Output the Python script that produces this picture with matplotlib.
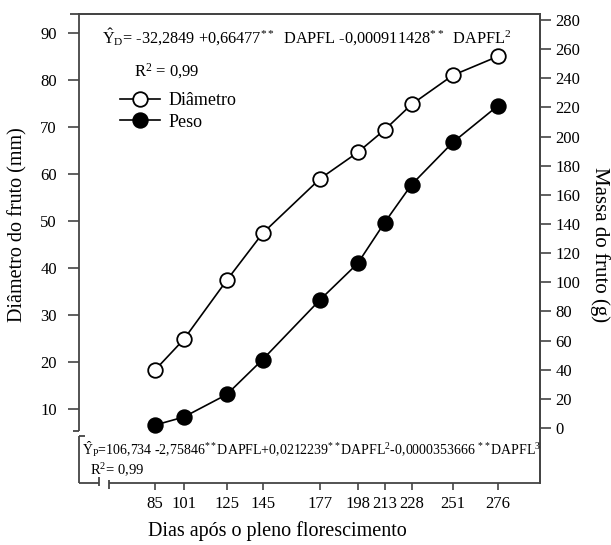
import matplotlib
matplotlib.use("Agg")
import matplotlib.pyplot as plt

days = [85, 101, 125, 145, 177, 198, 213, 228, 251, 276]
day_labels = ["85", "101", "125", "145", "177", "198", "213", "228", "251", "276"]
diametro = [18.3, 24.8, 37.4, 47.4, 59.0, 64.6, 69.4, 74.8, 81.0, 85.0]
peso = [2.0, 7.5, 23.0, 47.0, 88.0, 113.0, 141.0, 167.0, 196.0, 221.0]
left_ticks = [10, 20, 30, 40, 50, 60, 70, 80, 90]
right_ticks = list(range(0, 281, 20))

plt.rcParams['font.family'] = ['Liberation Serif', 'DejaVu Serif']
plt.rcParams['mathtext.fontset'] = 'custom'
plt.rcParams['mathtext.rm'] = 'Liberation Serif'
plt.rcParams['mathtext.it'] = 'Liberation Serif:italic'

W, H = 611, 545
fig = plt.figure(figsize=(W / 100, H / 100), dpi=100)
L, R, T, B = 79, 540, 14, 483
ax = fig.add_axes([L / W, 1 - B / H, (R - L) / W, (B - T) / H])
ax2 = ax.twinx()

ax.set_xlim(42.6, 299.6)
ax.set_ylim(-5.74, 94.04)
ax2.set_ylim(-37.75, 284.1)

lw = 1.2
ax.plot(days, diametro, '-o', color='black', lw=lw, ms=10.5, mfc='white', mec='black', mew=1.3,
        label='Diâmetro', zorder=3)
ax2.plot(days, peso, '-o', color='black', lw=lw, ms=10.5, mfc='black', mec='black', mew=1.3,
         label='Peso', zorder=3)

c = '#444444'
for a in (ax, ax2):
    for s in a.spines.values():
        s.set_linewidth(1.3)
        s.set_color(c)
ax.spines['left'].set_visible(False)
ax.spines['bottom'].set_visible(False)
ax2.spines['left'].set_visible(False)
ax2.spines['bottom'].set_visible(False)

# left spine with a break
kw = dict(transform=ax.transAxes, color=c, lw=1.3, clip_on=False, solid_capstyle='butt')
y_brk1 = (B - 431) / (B - T)
y_brk2 = (B - 436) / (B - T)
ax.plot([0, 0], [y_brk1, 1], **kw)
ax.plot([0, 0], [0, y_brk2], **kw)
ax.plot([-0.02, 0], [1, 1], **kw)
ax.plot([-0.012, 0], [y_brk1, y_brk1], **kw)
ax.plot([0, 0.012], [y_brk2, y_brk2], **kw)
# bottom spine with a break
x_brk1 = (99 - L) / (R - L)
x_brk2 = (109 - L) / (R - L)
ax.plot([0, x_brk1], [0, 0], **kw)
ax.plot([x_brk2, 1], [0, 0], **kw)
ax.plot([x_brk1, x_brk1], [-0.006, 0.012], **kw)
ax.plot([x_brk2, x_brk2], [-0.012, 0.006], **kw)

ax.set_xticks(days)
ax.set_xticklabels(day_labels)
ax.set_yticks(left_ticks)
ax2.set_yticks(right_ticks)
ax.tick_params(axis='x', direction='out', length=5, width=1.2, color=c, labelsize=12, pad=4)
ax.tick_params(axis='y', direction='out', length=8, width=1.2, color=c, labelsize=12, pad=8)
ax2.tick_params(axis='y', direction='out', length=8, width=1.2, color=c, labelsize=12, pad=3)

fig.text(18 / W, 1 - 225 / H, 'Diâmetro do fruto (mm)', rotation=90, ha='center', va='center', fontsize=14.5)
fig.text(600 / W, 1 - 245 / H, 'Massa do fruto (g)', rotation=-90, ha='center', va='center', fontsize=15)
fig.text(277 / W, 1 - 531 / H, 'Dias após o pleno florescimento', ha='center', va='center', fontsize=14.5)

eq1 = (r'$\hat{\mathrm{Y}}_{\mathrm{D}}$= -32,2849 +0,66477$^{**}$  DAPFL -0,000911428$^{**}$  DAPFL$^{2}$')
fig.text(102 / W, 1 - 37 / H, eq1, ha='left', va='center', fontsize=11.7)
fig.text(134 / W, 1 - 71 / H, r'R$^{2}$ = 0,99', ha='left', va='center', fontsize=12)

eq2 = (r'$\hat{\mathrm{Y}}_{\mathrm{P}}$=106,734 -2,75846$^{**}$DAPFL+0,0212239$^{**}$DAPFL$^{2}$'
       r'-0,0000353666 $^{**}$DAPFL$^{3}$')
fig.text(82 / W, 1 - 449 / H, eq2, ha='left', va='center', fontsize=10)
fig.text(90 / W, 1 - 470 / H, r'R$^{2}$= 0,99', ha='left', va='center', fontsize=10.5)

h1, l1 = ax.get_legend_handles_labels()
h2, l2 = ax2.get_legend_handles_labels()
leg = ax.legend(h1 + h2, l1 + l2, loc='upper left', bbox_to_anchor=((120 - L) / (R - L), (B - 92) / (B - T)),
                frameon=False, fontsize=13, handlelength=2.2, handletextpad=0.5, labelspacing=0.25,
                borderaxespad=0, borderpad=0)

fig.savefig('out.png', dpi=100)
